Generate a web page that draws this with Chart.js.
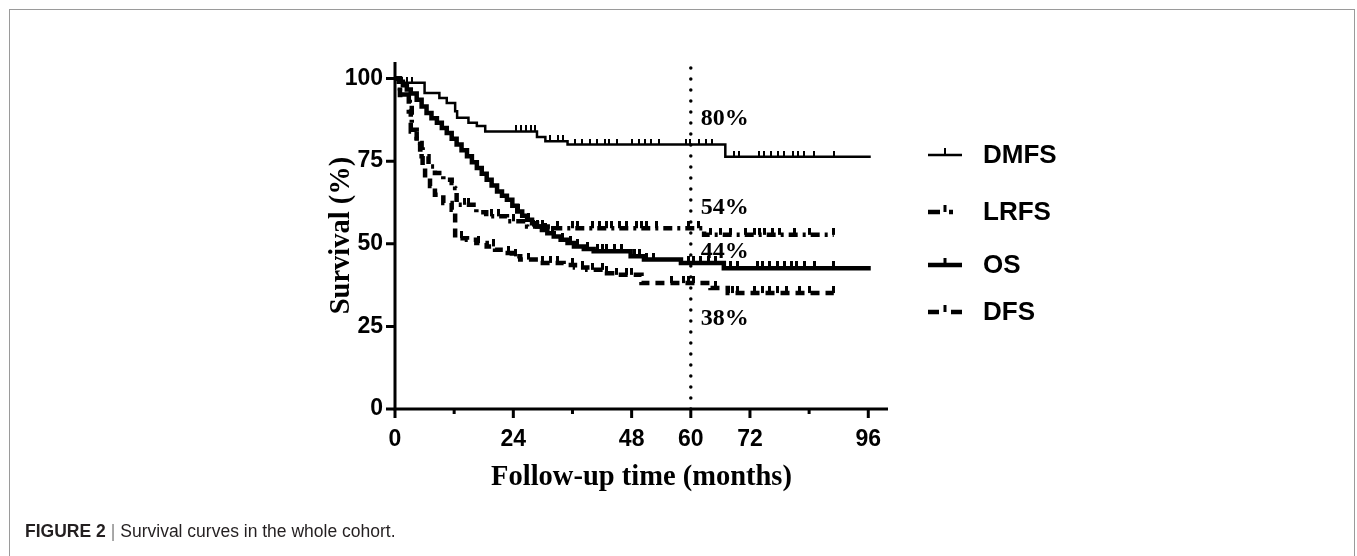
<!DOCTYPE html>
<html>
<head>
<meta charset="utf-8">
<script src="https://cdn.jsdelivr.net/npm/chart.js@4.4.1/dist/chart.umd.min.js"></script>
<style>
  html, body { margin: 0; padding: 0; background: #fff; overflow: hidden; }
  #wrap { position: relative; width: 1357px; height: 556px; }
  #frame { position: absolute; left: 9px; top: 9px; width: 1344px; height: 600px;
           border: 1px solid #9a9a9a; border-bottom: none; }
  #chart { position: absolute; left: 0; top: 0; }
  #caption { position: absolute; left: 25px; top: 521px; font-family: 'Liberation Sans', Arial, sans-serif;
             font-size: 17.5px; color: #231f20; white-space: nowrap; }
  #caption b { font-weight: bold; }
  #caption .sep { color: #888; margin: 0 5px; }
</style>
</head>
<body>
<div id="wrap">
  <div id="frame"></div>
  <canvas id="chart" width="1357" height="556"></canvas>
  <div id="caption"><b>FIGURE 2</b><span class="sep">|</span>Survival curves in the whole cohort.</div>
</div>
<script>
// Kaplan-Meier steps: [month, survival % after the step]
const dmfsSteps = [[0,100],[0.6,98.7],[6,95.6],[9,94.1],[10.5,92.6],[12.2,90.1],[12.6,88.1],[14.9,86.6],
  [16.6,85.6],[18.3,84],[28.8,82.3],[30.5,81],[35,80],[67,76.3],[96.5,76.3]];
const osSteps = [[0,100],[0.8,99],[1.6,98],[2.4,96.7],[3.2,95.5],[4.4,93.6],[5.4,91.5],[6.4,89.6],[7.4,88],
  [8.5,86.6],[9.5,85],[10.5,83.5],[11.5,81.8],[12.5,80],[13.5,78.3],[14.6,76.5],[15.6,74.7],[16.6,72.9],
  [17.6,71.2],[18.6,69.4],[19.6,67.6],[20.7,65.8],[21.7,64.5],[22.7,63.3],[23.8,61.5],[24.8,59.8],
  [25.8,58.5],[26.8,57.3],[27.8,56.2],[28.8,55.2],[29.8,54.2],[30.9,53.2],[32.2,52.2],[33.6,51.2],
  [35,50.2],[36.3,49.2],[38.3,48.4],[40.3,47.7],[47.8,46.2],[50.5,45.2],[58,44.2],[66.7,42.6],[96.5,42.6]];
const lrfsSteps = [[0,100],[1,95.2],[3,92.1],[3.4,84.5],[4.4,82],[5.1,80.5],[5.4,76.5],[6.8,73.4],[8.1,71.4],
  [9.8,69.4],[11.5,68.4],[12.2,66.9],[12.5,61.8],[16.5,59.5],[18.5,58.3],[22.7,56.8],[26.8,55.2],[32,54.7],
  [62.7,52.7],[89,52.7]];
const dfsSteps = [[0,100],[1,95],[2.8,90],[3.2,84],[4.4,81],[5.1,78.5],[5.6,73],[6.1,69.9],[7.1,67.5],
  [8.1,64.8],[9.8,62.3],[11.5,60.3],[12.2,51.7],[14.6,51.2],[16.5,50.2],[18.6,49.2],[20.3,48.2],[22,47.2],
  [23.7,46.2],[25.4,45.2],[29.5,44.2],[34.2,43.6],[36.5,42.8],[39,42.1],[43,41.1],[44.5,40.6],[50,38.1],
  [64,36.6],[67.5,35.1],[89,35.1]];

// censored observations (months)
const dmfsCensor = [1.5,2.5,3.5,24.5,25.5,26.5,27.5,28.3,31.5,33,34,36.5,38,39.5,41,42.5,43.5,45,48,49.5,
  50.8,52,53.5,59,59.8,61.6,63,64.3,68.8,69.8,73.8,74.9,76.3,77.7,79,80.8,81.8,83,85,89];
const osCensor = [25,27,29,30.5,32,34,35.5,37,39,41,42,43,44.5,46,48.5,49.5,51,52.5,59.5,60.5,62,63.5,65,
  68,69.5,73.5,74.5,76,77.5,79,80.5,81.5,83,85,89];
const lrfsCensor = [14,15,19.5,21,24,28,30,33,36,37,40,41.5,43,44,45.5,47,49,50,51,53,59.5,61.5,64,66,68,71,
  73,74,75,76.5,78,81,84,89];
const dfsCensor = [13.5,17,20,23,24.5,27,30,31.5,33,36,38,40,42,43,45,47,48,56,58.5,59.5,60.5,65,68.5,69.5,
  73,74.5,76,77.5,79.5,82,84,89];

const seriesNames = ['DMFS', 'LRFS', 'OS', 'DFS'];
const xTicks = [0, 12, 24, 36, 48, 60, 72, 84, 96];
const xTickLabels = [0, 24, 48, 60, 72, 96];
const yTicks = [0, 25, 50, 75, 100];
const cutoffMonth = 60;
const cutoffLabels = ['80%', '54%', '44%', '38%'];
const cutoffLabelY = [87.9, 60.9, 47.6, 27.3];

const sans = "'Liberation Sans', Arial, sans-serif";
const serif = "'Liberation Serif', 'Times New Roman', serif";

function levelAt(steps, t) {
  let v = steps[0][1];
  for (const s of steps) { if (s[0] <= t) v = s[1]; }
  return v;
}
function toPts(steps) { return steps.map(s => ({ x: s[0], y: s[1] })); }
function censorPts(steps, times) { return times.map(t => ({ x: t, y: levelAt(steps, t) })); }

function tickMark(w, len) {
  const c = document.createElement('canvas');
  c.width = w; c.height = len * 2;
  const g = c.getContext('2d');
  g.fillStyle = '#000';
  g.fillRect(0, 0, w, len);
  return c;
}
const thinTick = tickMark(2, 6);
const thickTick = tickMark(3, 7);

const styles = {
  DMFS: { width: 2.5, dash: [] },
  LRFS: { width: 4.5, dash: [9, 5, 3, 5] },
  OS:   { width: 4.5, dash: [] },
  DFS:  { width: 4.5, dash: [9, 6] }
};

function curve(label, steps) {
  return {
    label: label, data: toPts(steps), stepped: true,
    borderColor: '#000', borderWidth: styles[label].width, borderDash: styles[label].dash,
    pointRadius: 0, fill: false, borderCapStyle: 'butt', borderJoinStyle: 'miter'
  };
}
function censor(label, steps, times, img) {
  return {
    label: label + ' censored', data: censorPts(steps, times), showLine: false,
    pointStyle: img, pointRadius: 3, borderWidth: 0
  };
}

// axes, ticks, legend, cutoff labels
const decorPlugin = {
  id: 'decor',
  afterDraw(chart) {
    const ctx = chart.ctx;
    const xs = chart.scales.x, ys = chart.scales.y;
    const x0 = xs.getPixelForValue(0), y0 = ys.getPixelForValue(0);
    ctx.save();
    ctx.strokeStyle = '#000';
    ctx.lineWidth = 3;
    ctx.lineCap = 'butt';
    ctx.beginPath();
    ctx.moveTo(x0, ys.getPixelForValue(105));
    ctx.lineTo(x0, y0 + 1.5);
    ctx.moveTo(x0 - 1.5, y0);
    ctx.lineTo(xs.getPixelForValue(100), y0);
    ctx.stroke();
    ctx.beginPath();
    xTicks.forEach(v => {
      const px = xs.getPixelForValue(v);
      const len = xTickLabels.includes(v) ? 9 : 5;
      ctx.moveTo(px, y0);
      ctx.lineTo(px, y0 + len);
    });
    yTicks.forEach(v => {
      const py = ys.getPixelForValue(v);
      ctx.moveTo(x0, py);
      ctx.lineTo(x0 - 9, py);
    });
    ctx.stroke();

    // cutoff labels
    ctx.fillStyle = '#000';
    ctx.font = 'bold 24px ' + serif;
    ctx.textAlign = 'left';
    ctx.textBaseline = 'middle';
    cutoffLabels.forEach((t, i) => {
      ctx.fillText(t, xs.getPixelForValue(62), ys.getPixelForValue(cutoffLabelY[i]));
    });

    // legend
    const legY = [155, 212, 265, 312];
    const lx = 928, lw = 34;
    seriesNames.forEach((name, i) => {
      const y = legY[i];
      const st = styles[name];
      ctx.lineWidth = st.width;
      if (name === 'LRFS') ctx.setLineDash([12, 9, 4, 20]);
      else if (name === 'DFS') ctx.setLineDash([11, 12, 11]);
      else ctx.setLineDash([]);
      ctx.beginPath();
      ctx.moveTo(lx, y);
      ctx.lineTo(lx + lw, y);
      ctx.stroke();
      ctx.setLineDash([]);
      const tw = name === 'DMFS' ? 2 : 3;
      ctx.fillRect(lx + 17 - tw / 2, y - 7, tw, 7);
      ctx.font = 'bold 26px ' + sans;
      ctx.fillText(name, 983, y + 1);
    });
    ctx.restore();
  }
};

new Chart(document.getElementById('chart'), {
  type: 'line',
  data: {
    datasets: [
      {
        label: 'cutoff', data: [{ x: cutoffMonth, y: 0 }, { x: cutoffMonth, y: 105 }],
        borderColor: '#000', borderWidth: 3.5, borderDash: [0, 11], borderCapStyle: 'round',
        pointRadius: 0, fill: false
      },
      curve('DMFS', dmfsSteps),
      curve('LRFS', lrfsSteps),
      curve('OS', osSteps),
      curve('DFS', dfsSteps),
      censor('DMFS', dmfsSteps, dmfsCensor, thinTick),
      censor('LRFS', lrfsSteps, lrfsCensor, thickTick),
      censor('OS', osSteps, osCensor, thickTick),
      censor('DFS', dfsSteps, dfsCensor, thickTick)
    ]
  },
  options: {
    responsive: false,
    animation: false,
    devicePixelRatio: 1,
    layout: { padding: { left: 300, right: 469, top: 62, bottom: 47 } },
    plugins: { legend: { display: false }, tooltip: { enabled: false } },
    scales: {
      x: {
        type: 'linear', min: 0, max: 100,
        afterBuildTicks: s => { s.ticks = xTicks.map(v => ({ value: v })); },
        afterFit: s => { s.height = 100; },
        grid: { display: true, drawOnChartArea: false, color: 'rgba(0,0,0,0)', tickLength: 8 },
        border: { display: false },
        ticks: {
          padding: 9, color: '#000', maxRotation: 0, autoSkip: false,
          font: { family: sans, size: 23, weight: 'bold' },
          callback: v => xTickLabels.includes(v) ? String(v) : ''
        },
        title: {
          display: true, text: 'Follow-up time (months)', color: '#000',
          font: { family: serif, size: 28.5, weight: 'bold' }, padding: { top: 0, bottom: 14 }
        }
      },
      y: {
        type: 'linear', min: 0, max: 105,
        afterBuildTicks: s => { s.ticks = yTicks.map(v => ({ value: v })); },
        afterFit: s => { s.width = 95; },
        grid: { display: true, drawOnChartArea: false, color: 'rgba(0,0,0,0)', tickLength: 8 },
        border: { display: false },
        ticks: {
          padding: 4, color: '#000',
          font: { family: sans, size: 23, weight: 'bold' }
        },
        title: {
          display: true, text: 'Survival (%)', color: '#000',
          font: { family: serif, size: 28.5, weight: 'bold' }, padding: { top: 25, bottom: 0 }
        }
      }
    }
  },
  plugins: [decorPlugin]
});
</script>
</body>
</html>
